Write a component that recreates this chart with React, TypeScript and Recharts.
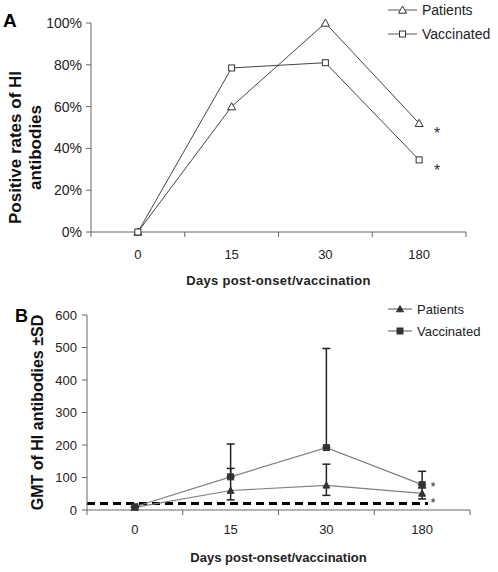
import React from 'react';
import { LineChart, Line, XAxis, YAxis, ErrorBar, ReferenceLine, LabelList } from 'recharts';

const days = ['0', '15', '30', '180'];
const ratePatients = [0, 60, 100, 52];
const rateVaccinated = [0, 78.5, 81, 34.5];
const gmtPatients = [8, 60, 76, 51];
const gmtVaccinated = [10, 102, 192, 78];
// [minus, plus] SD
const sdPatients = [[0, 0], [29, 68], [31, 65], [17, 17]];
const sdVaccinated = [[0, 0], [0, 101], [0, 305], [0, 41]];
const significance = ['', '', '', '*'];
const rateTicks = [0, 20, 40, 60, 80, 100];
const gmtTicks = [0, 100, 200, 300, 400, 500, 600];
const hiCutoff = 20;

const FONT = '"Liberation Sans", Arial, sans-serif';
const AXIS = '#666';
const TEXT = '#222';
const xTicks = [-0.5, 0, 0.5, 1, 1.5, 2, 2.5, 3, 3.5];

const rateData = days.map((d, i) => ({
  idx: i,
  day: d,
  patients: ratePatients[i],
  vaccinated: rateVaccinated[i],
  sig: significance[i],
}));

const gmtData = days.map((d, i) => ({
  idx: i,
  day: d,
  patients: gmtPatients[i],
  vaccinated: gmtVaccinated[i],
  patientsSd: sdPatients[i],
  vaccinatedSd: sdVaccinated[i],
  sig: significance[i],
}));

const triPath = (cx: number, cy: number, r: number) =>
  `M${cx},${cy - r} L${cx + r},${cy + r * 0.8} L${cx - r},${cy + r * 0.8} Z`;

const Marker = ({ kind, cx, cy, filled }: any) =>
  kind === 'tri' ? (
    <path d={triPath(cx, cy, filled ? 3.5 : 4)} fill={filled ? '#333' : '#fff'} stroke="#333" strokeWidth={1} />
  ) : (
    <rect x={cx - 3} y={cy - 3} width={6} height={6} fill={filled ? '#333' : '#fff'} stroke="#333" strokeWidth={1} />
  );

const dotFor = (kind: string, filled: boolean) => (p: any) =>
  <Marker key={`d-${kind}-${p.index}`} kind={kind} cx={p.cx} cy={p.cy} filled={filled} />;

// labels at category centres, tick marks at category edges (Excel style)
const dayTick = (gap: number) => (p: any) => {
  const v = p.payload.value;
  if (Number.isInteger(v)) {
    return (
      <text x={p.x} y={p.y + gap} dy="0.71em" textAnchor="middle" fontSize={13} fill={TEXT} fontFamily={FONT}>
        {days[v]}
      </text>
    );
  }
  return <line x1={p.x} y1={p.y} x2={p.x} y2={p.y + 5} stroke={AXIS} />;
};

const star = (dx: number, dy: number, size: number) => (p: any) =>
  p.value ? (
    <text x={p.x + dx} y={p.y + dy} textAnchor="middle" fontSize={size} fill="#333" fontFamily={FONT}>
      {p.value}
    </text>
  ) : null;

const LegendBox = ({ items, filled, lineLen, fontSize, rowGap, top }: any) => (
  <svg style={{ position: 'absolute', left: 386, top, overflow: 'visible' }} width={112} height={rowGap * 2 + 10}>
    {items.map((it: any, i: number) => {
      const cy = 10 + i * rowGap;
      return (
        <g key={it.name}>
          <line x1={2} y1={cy} x2={2 + lineLen} y2={cy} stroke="#555" strokeWidth={1} />
          <Marker kind={it.kind} cx={2 + lineLen / 2} cy={cy} filled={filled} />
          <text x={lineLen + 7} y={cy} dominantBaseline="central" fontSize={fontSize} fill={TEXT} fontFamily={FONT}>
            {it.name}
          </text>
        </g>
      );
    })}
  </svg>
);

const legendItems = [
  { name: 'Patients', kind: 'tri' },
  { name: 'Vaccinated', kind: 'sq' },
];

export default function App() {
  return (
    <div style={{ position: 'absolute', left: 0, top: 0, width: 498, height: 572, fontFamily: FONT, background: '#fff' }}>
      <div style={{ position: 'absolute', left: 3, top: 11, fontSize: 19, fontWeight: 'bold', lineHeight: '20px' }}>A</div>
      <div style={{ position: 'absolute', left: 0, top: 0 }}>
        <LineChart width={498} height={290} data={rateData} margin={{ top: 23, right: 32, bottom: 0, left: 0 }}>
          <XAxis
            dataKey="idx"
            type="number"
            domain={[-0.5, 3.5]}
            ticks={xTicks}
            interval={0}
            tickLine={false}
            tickSize={0}
            tickMargin={0}
            height={58}
            stroke={AXIS}
            tick={dayTick(18)}
            label={{ value: 'Days post-onset/vaccination', position: 'insideBottom', offset: 5, fontSize: 13, fontWeight: 'bold', fill: TEXT, fontFamily: FONT, letterSpacing: 0.3 }}
          />
          <YAxis
            type="number"
            domain={[0, 100]}
            ticks={rateTicks}
            interval={0}
            width={91}
            tickSize={5}
            tickMargin={4}
            stroke={AXIS}
            tickFormatter={(v) => `${v}%`}
            tick={{ fontSize: 14, fill: TEXT, fontFamily: FONT }}
            label={(p: any) => {
              const cy = p.viewBox.y + p.viewBox.height / 2 + 20;
              return (
                <g fontFamily={FONT} fontWeight="bold" fontSize={17} fill="#111">
                  <text x={21} y={cy} textAnchor="middle" transform={`rotate(-90, 21, ${cy})`}>Positive rates of HI</text>
                  <text x={41} y={cy} textAnchor="middle" transform={`rotate(-90, 41, ${cy})`}>antibodies</text>
                </g>
              );
            }}
          />
          <Line
            dataKey="patients"
            name="Patients"
            type="linear"
            stroke="#444"
            strokeWidth={1}
            dot={dotFor('tri', false)}
            activeDot={false}
            isAnimationActive={false}
          >
            <LabelList dataKey="sig" content={star(18, 16, 16)} />
          </Line>
          <Line
            dataKey="vaccinated"
            name="Vaccinated"
            type="linear"
            stroke="#444"
            strokeWidth={1}
            dot={dotFor('sq', false)}
            activeDot={false}
            isAnimationActive={false}
          >
            <LabelList dataKey="sig" content={star(18, 16, 16)} />
          </Line>
        </LineChart>
        <LegendBox items={legendItems} filled={false} lineLen={29} fontSize={14} rowGap={24} top={0} />
      </div>

      <div style={{ position: 'absolute', left: 15, top: 306, fontSize: 18, fontWeight: 'bold', lineHeight: '20px' }}>B</div>
      <div style={{ position: 'absolute', left: 0, top: 290 }}>
        <LineChart width={498} height={282} data={gmtData} margin={{ top: 25, right: 28, bottom: 0, left: 0 }}>
          <XAxis
            dataKey="idx"
            type="number"
            domain={[-0.5, 3.5]}
            ticks={xTicks}
            interval={0}
            tickLine={false}
            tickSize={0}
            tickMargin={0}
            height={62}
            stroke={AXIS}
            tick={dayTick(15)}
            label={{ value: 'Days post-onset/vaccination', position: 'insideBottom', offset: 10, fontSize: 13, fontWeight: 'bold', fill: TEXT, fontFamily: FONT }}
          />
          <YAxis
            type="number"
            domain={[0, 600]}
            ticks={gmtTicks}
            interval={0}
            width={87}
            tickSize={5}
            tickMargin={5}
            stroke={AXIS}
            tick={{ fontSize: 13, fill: TEXT, fontFamily: FONT }}
            label={(p: any) => {
              const cy = p.viewBox.y + p.viewBox.height / 2;
              return (
                <text
                  x={43}
                  y={cy}
                  textAnchor="middle"
                  transform={`rotate(-90, 43, ${cy})`}
                  fontFamily={FONT}
                  fontWeight="bold"
                  fontSize={16}
                  fill="#111"
                >
                  GMT of HI antibodies ±SD
                </text>
              );
            }}
          />
          <ReferenceLine
            y={hiCutoff}
            ifOverflow="extendDomain"
            shape={(p: any) => (
              <line x1={p.x1} y1={p.y1} x2={p.x2 - 42} y2={p.y2} stroke="#000" strokeWidth={3} strokeDasharray="8 5" />
            )}
          />
          <Line
            dataKey="patients"
            name="Patients"
            type="linear"
            stroke="#808080"
            strokeWidth={1.2}
            dot={dotFor('tri', true)}
            activeDot={false}
            isAnimationActive={false}
          >
            <ErrorBar dataKey="patientsSd" width={4} stroke="#222" strokeWidth={1.5} direction="y" />
            <LabelList dataKey="sig" content={star(11, 14, 13)} />
          </Line>
          <Line
            dataKey="vaccinated"
            name="Vaccinated"
            type="linear"
            stroke="#808080"
            strokeWidth={1.2}
            dot={dotFor('sq', true)}
            activeDot={false}
            isAnimationActive={false}
          >
            <ErrorBar dataKey="vaccinatedSd" width={4} stroke="#222" strokeWidth={1.5} direction="y" />
            <LabelList dataKey="sig" content={star(11, 6, 13)} />
          </Line>
        </LineChart>
        <LegendBox items={legendItems} filled={true} lineLen={24} fontSize={13} rowGap={22} top={9} />
      </div>
    </div>
  );
}
